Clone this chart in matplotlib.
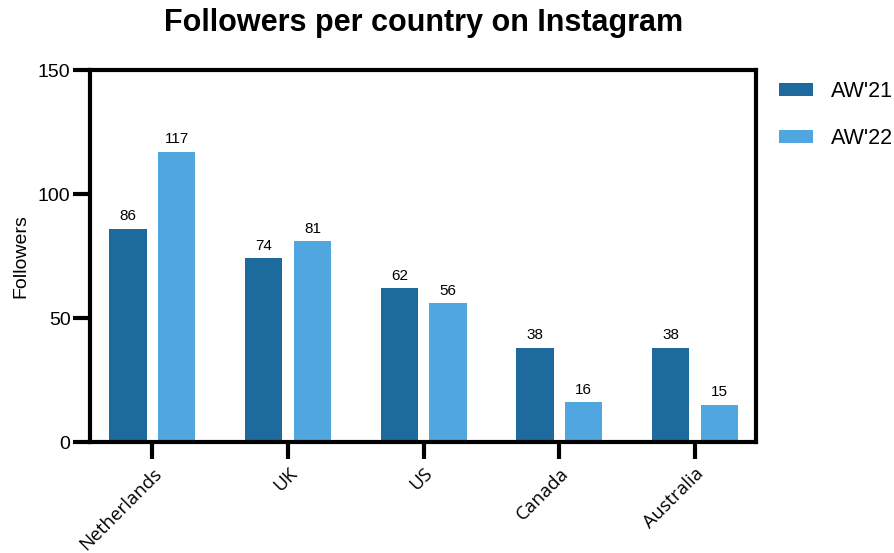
import matplotlib.pyplot as plt
import numpy as np

countries = ['Netherlands', 'UK', 'US', 'Canada', 'Australia']
aw21 = [86, 74, 62, 38, 38]
aw22 = [117, 81, 56, 16, 15]

plt.rcParams['font.family'] = ['Liberation Sans', 'DejaVu Sans']

fig = plt.figure(figsize=(8.95, 5.53), dpi=100)
ax = fig.add_axes([0.1006, 0.2007, 0.7441, 0.6727])

x = np.arange(len(countries))
w = 0.275
b1 = ax.bar(x - 0.18, aw21, w, color='#1d6a9c', label="AW'21")
b2 = ax.bar(x + 0.18, aw22, w, color='#50a6de', label="AW'22")
ax.bar_label(b1, padding=4, fontsize=11)
ax.bar_label(b2, padding=4, fontsize=11)

ax.set_xlim(-0.46, 4.45)
ax.set_ylim(0, 150)
ax.set_yticks([0, 50, 100, 150])
ax.set_xticks(x)
ax.set_xticklabels(countries, rotation=45, ha='right', rotation_mode='anchor',
                   fontsize=13.5, family='Open Sans')
ax.tick_params(axis='y', labelsize=14, length=12, width=3, pad=2)
ax.tick_params(axis='x', length=12, width=3, pad=4)
for s in ax.spines.values():
    s.set_linewidth(3)
ax.set_ylabel('Followers', fontsize=14, labelpad=6)

fig.text(0.473, 0.958, 'Followers per country on Instagram', ha='center',
         va='center', fontsize=22, fontweight='bold')

fig.legend(handles=[b1, b2], loc='upper left', bbox_to_anchor=(0.870, 0.853),
           frameon=False, fontsize=15.5, handlelength=1.58, handleheight=0.55,
           labelspacing=1.2, borderpad=0.0, borderaxespad=0.0,
           handletextpad=0.85)

fig.savefig('out.png', dpi=100)
